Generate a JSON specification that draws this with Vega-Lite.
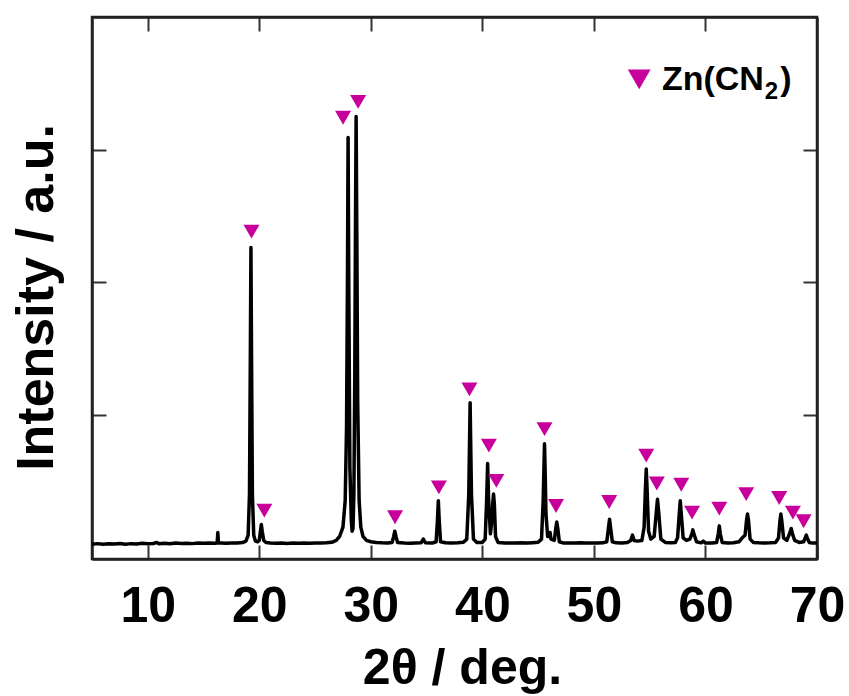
{
  "$schema": "https://vega.github.io/schema/vega-lite/v6.json",
  "autosize": {"type": "none"},
  "padding": {"left": 92, "top": 17, "right": 32, "bottom": 137},
  "width": 725,
  "height": 542,
  "background": "white",
  "config": {
    "view": {"stroke": "#222", "strokeWidth": 2.5},
    "axis": {
      "domainColor": "#222", "domainWidth": 2.5,
      "tickColor": "#333", "tickWidth": 2, "tickSize": -14,
      "grid": false,
      "labelFont": "Liberation Sans", "labelFontWeight": "bold", "labelFontSize": 50, "labelColor": "#000", "labelFlush": false,
      "titleFont": "Liberation Sans", "titleFontWeight": "bold", "titleFontSize": 50, "titleColor": "#000"
    }
  },
  "datasets": {
    "xrd": [
      {"x":5.0,"y":0.022},{"x":5.5,"y":0.026},{"x":6.0,"y":0.021},{"x":6.5,"y":0.025},{"x":7.0,"y":0.023},{"x":7.5,"y":0.027},{"x":8.0,"y":0.022},{"x":8.5,"y":0.026},{"x":9.0,"y":0.024},{"x":9.5,"y":0.028},{"x":10.0,"y":0.025},{"x":10.5,"y":0.027},{"x":10.8,"y":0.035},{"x":11.0,"y":0.026},{"x":11.5,"y":0.028},{"x":12.0,"y":0.025},{"x":12.5,"y":0.03},{"x":13.0,"y":0.027},{"x":13.5,"y":0.029},{"x":14.0,"y":0.026},{"x":14.5,"y":0.03},{"x":15.0,"y":0.028},{"x":15.5,"y":0.031},{"x":16.0,"y":0.029},
      {"x":16.22,"y":0.03},{"x":16.28,"y":0.11},{"x":16.34,"y":0.03},{"x":16.6,"y":0.03},{"x":17.0,"y":0.028},{"x":17.5,"y":0.031},{"x":18.0,"y":0.03},{"x":18.5,"y":0.034},{"x":18.8,"y":0.045},
      {"x":19.0,"y":0.09},{"x":19.12,"y":0.4},{"x":19.2,"y":1.5},{"x":19.25,"y":2.26},{"x":19.3,"y":1.5},{"x":19.38,"y":0.4},{"x":19.5,"y":0.09},{"x":19.65,"y":0.045},{"x":19.85,"y":0.04},
      {"x":20.0,"y":0.05},{"x":20.1,"y":0.12},{"x":20.18,"y":0.17},{"x":20.26,"y":0.12},{"x":20.4,"y":0.05},{"x":20.6,"y":0.035},
      {"x":21.0,"y":0.03},{"x":21.5,"y":0.028},{"x":22.0,"y":0.03},{"x":22.5,"y":0.027},{"x":23.0,"y":0.03},{"x":23.5,"y":0.028},{"x":24.0,"y":0.03},{"x":24.5,"y":0.029},{"x":25.0,"y":0.031},{"x":25.5,"y":0.03},{"x":26.0,"y":0.032},{"x":26.5,"y":0.036},{"x":26.9,"y":0.05},
      {"x":27.2,"y":0.08},{"x":27.5,"y":0.15},{"x":27.7,"y":0.35},{"x":27.82,"y":0.9},{"x":27.9,"y":2.0},{"x":27.96,"y":3.09},{"x":28.02,"y":2.0},{"x":28.12,"y":0.6},{"x":28.25,"y":0.2},{"x":28.32,"y":0.12},{"x":28.4,"y":0.14},{"x":28.48,"y":0.4},{"x":28.56,"y":1.3},{"x":28.62,"y":2.4},{"x":28.68,"y":3.25},{"x":28.74,"y":2.4},{"x":28.82,"y":1.1},{"x":28.95,"y":0.35},{"x":29.1,"y":0.15},{"x":29.3,"y":0.08},{"x":29.6,"y":0.05},
      {"x":30.0,"y":0.04},{"x":30.5,"y":0.035},{"x":31.0,"y":0.032},{"x":31.5,"y":0.03},{"x":31.9,"y":0.035},{"x":32.05,"y":0.08},{"x":32.15,"y":0.12},{"x":32.25,"y":0.08},{"x":32.4,"y":0.035},
      {"x":33.0,"y":0.03},{"x":33.5,"y":0.028},{"x":34.0,"y":0.03},{"x":34.5,"y":0.032},{"x":34.7,"y":0.06},{"x":34.9,"y":0.032},{"x":35.5,"y":0.03},
      {"x":35.85,"y":0.04},{"x":35.97,"y":0.2},{"x":36.05,"y":0.35},{"x":36.13,"y":0.2},{"x":36.25,"y":0.04},{"x":36.7,"y":0.032},{"x":37.2,"y":0.03},{"x":37.8,"y":0.032},{"x":38.3,"y":0.036},
      {"x":38.6,"y":0.06},{"x":38.78,"y":0.4},{"x":38.85,"y":0.8},{"x":38.9,"y":1.09},{"x":38.95,"y":0.8},{"x":39.02,"y":0.4},{"x":39.2,"y":0.06},{"x":39.5,"y":0.035},
      {"x":40.0,"y":0.035},{"x":40.25,"y":0.06},{"x":40.38,"y":0.35},{"x":40.47,"y":0.63},{"x":40.56,"y":0.35},{"x":40.72,"y":0.1},{"x":40.85,"y":0.2},{"x":40.93,"y":0.33},{"x":41.0,"y":0.4},{"x":41.07,"y":0.33},{"x":41.18,"y":0.08},{"x":41.4,"y":0.035},
      {"x":42.0,"y":0.03},{"x":42.5,"y":0.031},{"x":43.0,"y":0.03},{"x":43.5,"y":0.032},{"x":44.0,"y":0.03},{"x":44.5,"y":0.033},{"x":45.0,"y":0.036},
      {"x":45.3,"y":0.06},{"x":45.45,"y":0.35},{"x":45.52,"y":0.6},{"x":45.57,"y":0.78},{"x":45.62,"y":0.6},{"x":45.7,"y":0.25},{"x":45.85,"y":0.08},{"x":46.0,"y":0.08},{"x":46.07,"y":0.11},{"x":46.15,"y":0.06},
      {"x":46.45,"y":0.05},{"x":46.58,"y":0.14},{"x":46.67,"y":0.19},{"x":46.76,"y":0.14},{"x":46.9,"y":0.04},
      {"x":47.3,"y":0.03},{"x":47.8,"y":0.031},{"x":48.3,"y":0.03},{"x":48.8,"y":0.032},{"x":49.3,"y":0.03},{"x":49.8,"y":0.031},{"x":50.3,"y":0.03},{"x":50.8,"y":0.032},
      {"x":51.15,"y":0.04},{"x":51.3,"y":0.14},{"x":51.4,"y":0.21},{"x":51.5,"y":0.14},{"x":51.65,"y":0.04},{"x":52.0,"y":0.032},{"x":52.5,"y":0.03},
      {"x":53.0,"y":0.035},{"x":53.3,"y":0.05},{"x":53.46,"y":0.09},{"x":53.6,"y":0.05},{"x":53.9,"y":0.045},
      {"x":54.3,"y":0.05},{"x":54.5,"y":0.15},{"x":54.62,"y":0.45},{"x":54.69,"y":0.59},{"x":54.76,"y":0.45},{"x":54.9,"y":0.12},{"x":55.1,"y":0.06},
      {"x":55.4,"y":0.08},{"x":55.58,"y":0.25},{"x":55.7,"y":0.36},{"x":55.82,"y":0.25},{"x":56.0,"y":0.06},{"x":56.4,"y":0.035},{"x":56.9,"y":0.032},
      {"x":57.3,"y":0.035},{"x":57.5,"y":0.07},{"x":57.65,"y":0.25},{"x":57.74,"y":0.35},{"x":57.83,"y":0.25},{"x":58.0,"y":0.07},{"x":58.3,"y":0.05},
      {"x":58.6,"y":0.06},{"x":58.78,"y":0.1},{"x":58.87,"y":0.13},{"x":58.96,"y":0.1},{"x":59.2,"y":0.04},{"x":59.6,"y":0.032},{"x":59.8,"y":0.045},{"x":60.0,"y":0.03},{"x":60.6,"y":0.03},
      {"x":61.0,"y":0.035},{"x":61.15,"y":0.1},{"x":61.24,"y":0.16},{"x":61.33,"y":0.1},{"x":61.5,"y":0.035},{"x":62.0,"y":0.03},{"x":62.5,"y":0.033},
      {"x":63.0,"y":0.04},{"x":63.3,"y":0.07},{"x":63.55,"y":0.09},{"x":63.68,"y":0.2},{"x":63.77,"y":0.25},{"x":63.86,"y":0.2},{"x":64.0,"y":0.06},{"x":64.3,"y":0.035},
      {"x":64.8,"y":0.032},{"x":65.3,"y":0.03},{"x":65.8,"y":0.032},{"x":66.3,"y":0.035},
      {"x":66.55,"y":0.07},{"x":66.68,"y":0.2},{"x":66.76,"y":0.25},{"x":66.84,"y":0.2},{"x":67.0,"y":0.07},{"x":67.3,"y":0.05},
      {"x":67.58,"y":0.11},{"x":67.69,"y":0.14},{"x":67.8,"y":0.1},{"x":68.0,"y":0.05},{"x":68.4,"y":0.035},
      {"x":68.8,"y":0.04},{"x":68.95,"y":0.07},{"x":69.04,"y":0.09},{"x":69.13,"y":0.07},{"x":69.3,"y":0.035},{"x":69.6,"y":0.03},{"x":70.0,"y":0.03}
    ],
    "peaks": [
      {"x":19.3,"y":2.38},{"x":20.45,"y":0.275},{"x":27.51,"y":3.24},{"x":28.86,"y":3.36},{"x":32.17,"y":0.225},
      {"x":36.1,"y":0.45},{"x":38.84,"y":1.19},{"x":40.58,"y":0.765},{"x":41.25,"y":0.5},{"x":45.57,"y":0.89},
      {"x":46.6,"y":0.31},{"x":51.37,"y":0.34},{"x":54.69,"y":0.69},{"x":55.64,"y":0.48},{"x":57.83,"y":0.47},
      {"x":58.8,"y":0.26},{"x":61.24,"y":0.29},{"x":63.65,"y":0.4},{"x":66.61,"y":0.37},{"x":67.84,"y":0.26},{"x":68.8,"y":0.195}
    ],
    "legendMark": [{"x":54.06,"y":3.53}],
    "legendText": [
      {"x":56.1,"y":3.449,"t":"Zn(CN","s":34},
      {"x":65.31,"y":3.383,"t":"2","s":24},
      {"x":66.7,"y":3.449,"t":")","s":34}
    ]
  },
  "layer": [
    {
      "data": {"name": "xrd"},
      "mark": {"type": "line", "color": "#000", "strokeWidth": 3.5, "strokeJoin": "round"},
      "encoding": {
        "x": {"field": "x", "type": "quantitative",
              "scale": {"domain": [5, 70], "nice": false, "zero": false},
              "axis": {"orient": "bottom", "values": [10,20,30,40,50,60,70], "labelPadding": 36,
                       "title": "2θ / deg.", "titleX": 370, "titleY": 124, "titleBaseline": "alphabetic", "titleAlign": "center"}},
        "y": {"field": "y", "type": "quantitative",
              "scale": {"domain": [-0.09, 4.0], "nice": false, "zero": false},
              "axis": {"orient": "left", "values": [1,2,3], "labels": false,
                       "title": "Intensity / a.u.", "titleFontSize": 52, "titleX": -40, "titleY": 280, "titleBaseline": "alphabetic", "titleAlign": "center", "titleAngle": 270}}
      }
    },
    {
      "data": {"name": "peaks"},
      "mark": {"type": "point", "shape": "triangle-down", "filled": true, "size": 256, "color": "#c8009b", "opacity": 1},
      "encoding": {
        "x": {"field": "x", "type": "quantitative",
              "scale": {"domain": [5, 70], "nice": false, "zero": false},
              "axis": {"orient": "top", "values": [10,20,30,40,50,60], "labels": false, "title": null}},
        "y": {"field": "y", "type": "quantitative",
              "scale": {"domain": [-0.09, 4.0], "nice": false, "zero": false},
              "axis": {"orient": "right", "values": [1,2,3], "labels": false, "title": null}}
      }
    },
    {
      "data": {"name": "legendMark"},
      "mark": {"type": "point", "shape": "triangle-down", "filled": true, "size": 520, "color": "#c8009b", "opacity": 1},
      "encoding": {
        "x": {"field": "x", "type": "quantitative", "scale": {"domain": [5, 70], "nice": false, "zero": false}, "axis": null},
        "y": {"field": "y", "type": "quantitative", "scale": {"domain": [-0.09, 4.0], "nice": false, "zero": false}, "axis": null}
      }
    },
    {
      "data": {"name": "legendText"},
      "mark": {"type": "text", "font": "Liberation Sans", "fontWeight": "bold", "align": "left", "baseline": "alphabetic", "color": "#000"},
      "encoding": {
        "x": {"field": "x", "type": "quantitative", "scale": {"domain": [5, 70], "nice": false, "zero": false}, "axis": null},
        "y": {"field": "y", "type": "quantitative", "scale": {"domain": [-0.09, 4.0], "nice": false, "zero": false}, "axis": null},
        "text": {"field": "t"},
        "size": {"field": "s", "type": "quantitative", "scale": null}
      }
    }
  ],
  "resolve": {"axis": {"x": "independent", "y": "independent"}}
}
